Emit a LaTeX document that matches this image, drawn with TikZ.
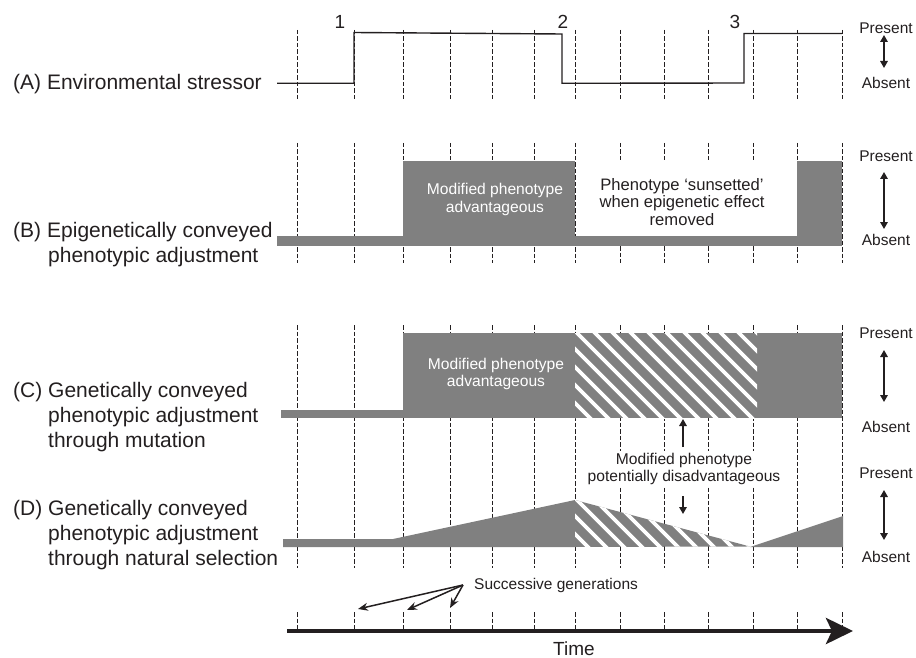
\documentclass[tikz,border=0pt]{standalone}
\usepackage{fontspec}
\setmainfont{Liberation Sans}
\usetikzlibrary{arrows.meta}
\definecolor{fillgray}{RGB}{128,128,128}
\definecolor{ink}{RGB}{35,31,32}
\begin{document}
\begin{tikzpicture}[x=1pt,y=-1pt,
  grid/.style={ink, line width=0.9pt, dash pattern=on 4.5pt off 2pt},
  stripe/.style={white, line width=3.6pt},
  biglab/.style={font=\fontsize{21}{25}\selectfont, text=ink, inner sep=0pt, anchor=base west},
  side/.style={font=\fontsize{15.5}{18}\selectfont, text=ink, inner sep=0pt, anchor=base},
  boxtxt/.style={font=\fontsize{15.6}{18}\selectfont, text=white, inner sep=0pt, anchor=base},
  darktxt/.style={font=\fontsize{16.6}{18}\selectfont, text=ink, inner sep=0pt, anchor=base},
  notetxt/.style={font=\fontsize{15.6}{18}\selectfont, text=ink, fill=white, inner xsep=3pt, inner ysep=2pt, anchor=base},
  numlab/.style={font=\fontsize{19}{22}\selectfont, text=ink, inner sep=0pt, anchor=base},
  dbl/.style={ink, line width=1.6pt, {Triangle[length=7pt,width=7.5pt]}-{Triangle[length=7pt,width=7.5pt]}},
  sgl/.style={ink, line width=1.6pt, -{Triangle[length=7pt,width=7.5pt]}},
  genarrow/.style={ink, line width=1.5pt, -{Stealth[length=10pt,width=8pt]}},
  timearrow/.style={ink, line width=4.5pt, -{Stealth[length=27pt,width=26pt,inset=6pt]}}
]
\useasboundingbox (0,0) rectangle (916,658);

% dashed generation lines
\foreach \x in {297,354,403,450,492,534,575,620,664,708,753,797,842} {
  \draw[grid] (\x,30) -- (\x,100);
  \draw[grid] (\x,325) -- (\x,568);
  \draw[grid] (\x,612) -- (\x,629);
}
\foreach \x in {297,354,403,450,492,534,575,797,842} {
  \draw[grid] (\x,143) -- (\x,263);
}
\foreach \x in {620,664,708,753} {
  \draw[grid] (\x,143) -- (\x,161);
  \draw[grid] (\x,246) -- (\x,263);
}

% (A) environmental stressor
\draw[ink, line width=1.4pt, line join=miter]
  (277,83.3) -- (354,83.3) -- (354,32.5) -- (562,34) -- (562,83.3)
  -- (744,83) -- (744,33.5) -- (842,33.5);
\node[numlab] (n1) at (340,28.3) {1};
\node[numlab] (n2) at (563,28.3) {2};
\node[numlab] (n3) at (735,28.3) {3};

% (B) epigenetic
\fill[fillgray] (277,236) rectangle (797,246);
\fill[fillgray] (403,161) rectangle (575,246);
\fill[fillgray] (797,161) rectangle (842,246);
\node[boxtxt] (b1) at (495,194) {Modified phenotype};
\node[boxtxt] (b2) at (495,212) {advantageous};
\node[darktxt] (s1) at (682,190) {Phenotype ‘sunsetted’};
\node[darktxt] (s2) at (682,207.5) {when epigenetic effect};
\node[darktxt] (s3) at (682,225) {removed};

% (C) mutation
\fill[fillgray] (281,410) rectangle (403,418);
\fill[fillgray] (403,333) rectangle (842,418);
\begin{scope}
  \clip (575,333) rectangle (757,418);
  \foreach \k in {-6,...,10} {
    \draw[stripe] ({577+18*\k-13},320) -- ({577+18*\k+97},430);
  }
\end{scope}
\node[boxtxt] (c1) at (496,369) {Modified phenotype};
\node[boxtxt] (c2) at (496,386) {advantageous};

% (D) natural selection
\fill[fillgray] (283,539) -- (393,539) -- (575,500) -- (575,547) -- (283,547) -- cycle;
\fill[fillgray] (575,500) -- (750,546.5) -- (575,547) -- cycle;
\begin{scope}
  \clip (575,500) -- (750,546.5) -- (575,547) -- cycle;
  \foreach \k in {-4,...,10} {
    \draw[stripe] ({577+18*\k-8},492) -- ({577+18*\k+55},555);
  }
\end{scope}
\fill[fillgray] (750,547) -- (843,516) -- (843,547) -- cycle;

% disadvantage note
\node[notetxt] (m1) at (684,464) {Modified phenotype};
\node[notetxt] (m2) at (684,481) {potentially disadvantageous};
\coordinate (upT) at (683,447);
\coordinate (upH) at (683,419);
\coordinate (dnT) at (683,496);
\coordinate (dnH) at (683,514);
\draw[sgl] (upT) -- (upH);
\draw[sgl] (dnT) -- (dnH);

% left labels
\node[biglab] (la) at (13,90) {(A) Environmental stressor};
\node[biglab] (lb0) at (13,237) {(B)};
\node[biglab] (lb1) at (47,237) {Epigenetically conveyed};
\node[biglab] (lb2) at (48,262) {phenotypic adjustment};
\node[biglab] (lc0) at (13,397) {(C)};
\node[biglab] (lc1) at (48,397) {Genetically conveyed};
\node[biglab] (lc2) at (48,422) {phenotypic adjustment};
\node[biglab] (lc3) at (48,447) {through mutation};
\node[biglab] (ld0) at (13,515) {(D)};
\node[biglab] (ld1) at (48,515) {Genetically conveyed};
\node[biglab] (ld2) at (48,540) {phenotypic adjustment};
\node[biglab] (ld3) at (48,565) {through natural selection};

% right Present / Absent scales
\node[side] (pa) at (886,33.5) {Present};
\node[side] (aa) at (886,88.5) {Absent};
\coordinate (aa1) at (884,35); \coordinate (aa2) at (884,68);
\draw[dbl] (aa1) -- (aa2);

\node[side] (pb) at (886,161.5) {Present};
\node[side] (ab) at (886,245.5) {Absent};
\coordinate (ab1) at (884,172); \coordinate (ab2) at (884,229);
\draw[dbl] (ab1) -- (ab2);

\node[side] (pc) at (886,338.5) {Present};
\node[side] (ac) at (886,432.5) {Absent};
\coordinate (ac1) at (884,350); \coordinate (ac2) at (884,402);
\draw[dbl] (ac1) -- (ac2);

\node[side] (pd) at (886,478.5) {Present};
\node[side] (ad) at (886,562.5) {Absent};
\coordinate (ad1) at (884,490); \coordinate (ad2) at (884,540);
\draw[dbl] (ad1) -- (ad2);

% successive generations
\node[side, anchor=base west] (sgt) at (474,589) {Successive generations};
\coordinate (sg) at (463,585);
\coordinate (g1) at (358,609);
\coordinate (g2) at (407,610);
\coordinate (g3) at (450,608);
\draw[genarrow] (sg) -- (g1);
\draw[genarrow] (sg) -- (g2);
\draw[genarrow] (sg) -- (g3);

% time axis
\coordinate (t0) at (287,631);
\coordinate (t1) at (853,631);
\draw[timearrow] (t0) -- (t1);
\node[font=\fontsize{19}{22}\selectfont, text=ink, inner sep=0pt, anchor=base] (time) at (574,655) {Time};
\end{tikzpicture}
\end{document}
